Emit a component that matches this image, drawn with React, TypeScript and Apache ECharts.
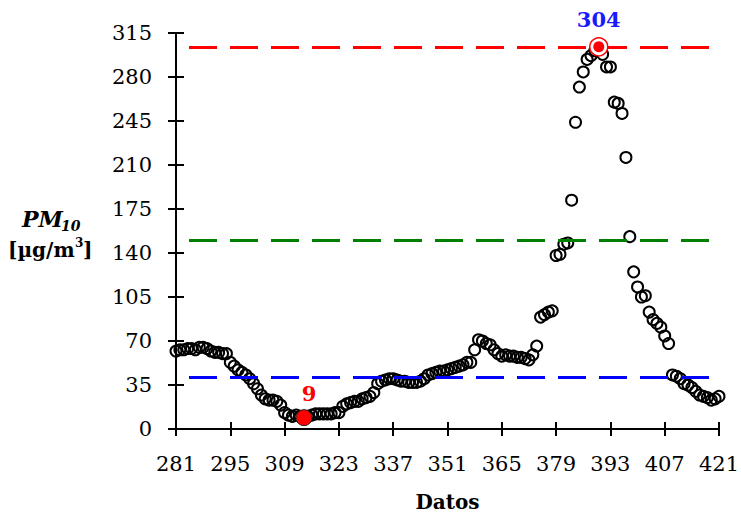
import React, { useEffect, useRef } from "react";
import * as echarts from "echarts";

// Sample numbers (Datos) start at 281 and run to 421, one value per sample.
const X_START = 281;
const X_END = 421;
const X_STEP = 14;

const Y_MIN = 0;
const Y_MAX = 315;
const Y_STEP = 35;

// PM10 [µg/m3] for samples 281 ... 421
const pm10 = [
  62, 63, 63, 64, 64, 63, 65, 65, 64, 62, // 281-290
  61, 61, 60, 60, 53, 50, 47, 45, 43, 40, // 291-300
  36, 32, 27, 24, 23, 23, 22, 19, 13, 11, // 301-310
  10, 11, 10, 9, 10, 11, 12, 12, 12, 12, // 311-320
  12, 13, 13, 18, 20, 21, 22, 22, 24, 25, // 321-330
  26, 29, 36, 38, 39, 40, 40, 39, 38, 38, // 331-340
  37, 37, 37, 38, 40, 43, 44, 45, 46, 46, // 341-350
  47, 48, 49, 50, 51, 53, 53, 63, 71, 70, // 351-360
  68, 67, 63, 60, 58, 59, 58, 58, 57, 57, // 361-370
  56, 55, 59, 66, 89, 91, 93, 94, 138, 139, // 371-380
  147, 148, 182, 244, 272, 284, 294, 297, 301, 304, // 381-390
  298, 288, 288, 260, 259, 251, 216, 153, 125, 113, // 391-400
  105, 106, 93, 87, 84, 81, 74, 68, 43, 42, // 401-410
  40, 36, 35, 33, 30, 27, 26, 25, 23, 24, // 411-420
  26, // 421
];

// Reference lines
const limitValues = [304, 150, 41];
const limitColors = ["#ff0000", "#008000", "#0000ff"];

const FONT = "DejaVu Serif";

export default function App() {
  const ref = useRef<HTMLDivElement>(null);

  useEffect(() => {
    if (!ref.current) return;
    const chart = echarts.init(ref.current, null, { renderer: "svg" });

    const points = pm10.map((v, i) => [i, v]);
    let minI = 0;
    let maxI = 0;
    pm10.forEach((v, i) => {
      if (v < pm10[minI]) minI = i;
      if (v > pm10[maxI]) maxI = i;
    });

    const xRange = X_END - X_START;
    const baseX = {
      type: "value",
      min: 0,
      max: xRange,
      interval: X_STEP,
      splitLine: { show: false },
    };
    const baseY = {
      type: "value",
      min: Y_MIN,
      max: Y_MAX,
      interval: Y_STEP,
      splitLine: { show: false },
    };

    const option = {
      animation: false,
      grid: { left: 176, right: 22, top: 33, bottom: 86, containLabel: false, outerBoundsMode: "none" },
      xAxis: [
        {
          ...baseX,
          position: "bottom",
          axisLine: { show: true, onZero: false, lineStyle: { color: "#000", width: 2 } },
          axisTick: { show: true, inside: false, length: 7, lineStyle: { color: "#000", width: 2 } },
          axisLabel: {
            formatter: (v: number) => String(v + X_START),
            color: "#000",
            fontFamily: FONT,
            fontSize: 21,
            margin: 24,
          },
          name: "Datos",
          nameLocation: "middle",
          nameGap: 63,
          nameTextStyle: { color: "#000", fontFamily: FONT, fontWeight: "bold", fontSize: 20 },
        },
        {
          ...baseX,
          position: "bottom",
          axisLine: { show: false, onZero: false },
          axisTick: { show: true, inside: true, length: 7, lineStyle: { color: "#000", width: 2 } },
          axisLabel: { show: false },
        },
      ],
      yAxis: [
        {
          ...baseY,
          position: "left",
          axisLine: { show: true, onZero: false, lineStyle: { color: "#000", width: 2 } },
          axisTick: { show: true, inside: false, length: 8, lineStyle: { color: "#000", width: 2 } },
          axisLabel: { color: "#000", fontFamily: FONT, fontSize: 21, margin: 24 },
        },
        {
          ...baseY,
          position: "left",
          axisLine: { show: false, onZero: false },
          axisTick: { show: true, inside: true, length: 8, lineStyle: { color: "#000", width: 2 } },
          axisLabel: { show: false },
        },
      ],
      graphic: [
        { type: "text", x: 22, y: 219, style: { text: "PM", font: `italic bold 22px "${FONT}"`, fill: "#000", textAlign: "left", textVerticalAlign: "middle" } },
        { type: "text", x: 61, y: 226, style: { text: "10", font: `italic bold 14px "${FONT}"`, fill: "#000", textAlign: "left", textVerticalAlign: "middle" } },
        { type: "text", x: 8, y: 250, style: { text: "[µg/m", font: `bold 20px "${FONT}"`, fill: "#000", textAlign: "left", textVerticalAlign: "middle" } },
        { type: "text", x: 75, y: 243, style: { text: "3", font: `bold 12px "${FONT}"`, fill: "#000", textAlign: "left", textVerticalAlign: "middle" } },
        { type: "text", x: 83, y: 250, style: { text: "]", font: `bold 20px "${FONT}"`, fill: "#000", textAlign: "left", textVerticalAlign: "middle" } },
      ],
      series: [
        {
          type: "scatter",
          xAxisIndex: 0,
          yAxisIndex: 0,
          data: points,
          symbol: "circle",
          symbolSize: 11,
          itemStyle: { color: "rgba(0,0,0,0)", borderColor: "#000", borderWidth: 2, opacity: 1 },
          markLine: {
            silent: true,
            symbol: "none",
            label: { show: false },
            data: limitValues.map((v, k) => ({
              yAxis: v,
              lineStyle: { color: limitColors[k], width: 3, type: [28, 13], dashOffset: 28, opacity: 1 },
            })),
          },
          z: 3,
        },
        {
          type: "scatter",
          data: [points[minI]],
          symbol: "circle",
          symbolSize: 16,
          itemStyle: { color: "#ff0000", borderColor: "#222", borderWidth: 1, opacity: 1 },
          label: {
            show: true,
            position: "top",
            distance: 5,
            offset: [5, 0],
            formatter: (p: any) => String(p.value[1]),
            color: "#ff0000",
            opacity: 1,
            fontFamily: FONT,
            fontWeight: "bold",
            fontSize: 21,
          },
          z: 5,
        },
        {
          type: "scatter",
          data: [points[maxI]],
          symbol: "circle",
          symbolSize: 18,
          itemStyle: { color: "#fff", borderColor: "#ff0000", borderWidth: 1.5, opacity: 1 },
          label: {
            show: true,
            position: "top",
            distance: 7,
            formatter: (p: any) => String(p.value[1]),
            color: "#1a1aff",
            opacity: 1,
            fontFamily: FONT,
            fontWeight: "bold",
            fontSize: 21,
          },
          z: 5,
        },
        {
          type: "scatter",
          data: [points[maxI]],
          symbol: "circle",
          symbolSize: 11,
          itemStyle: { color: "#ff0000", opacity: 1 },
          z: 6,
        },
      ],
    };

    chart.setOption(option as any);
    return () => chart.dispose();
  }, []);

  return (
    <div
      ref={ref}
      style={{ position: "absolute", left: 0, top: 0, width: 741, height: 515 }}
    />
  );
}
